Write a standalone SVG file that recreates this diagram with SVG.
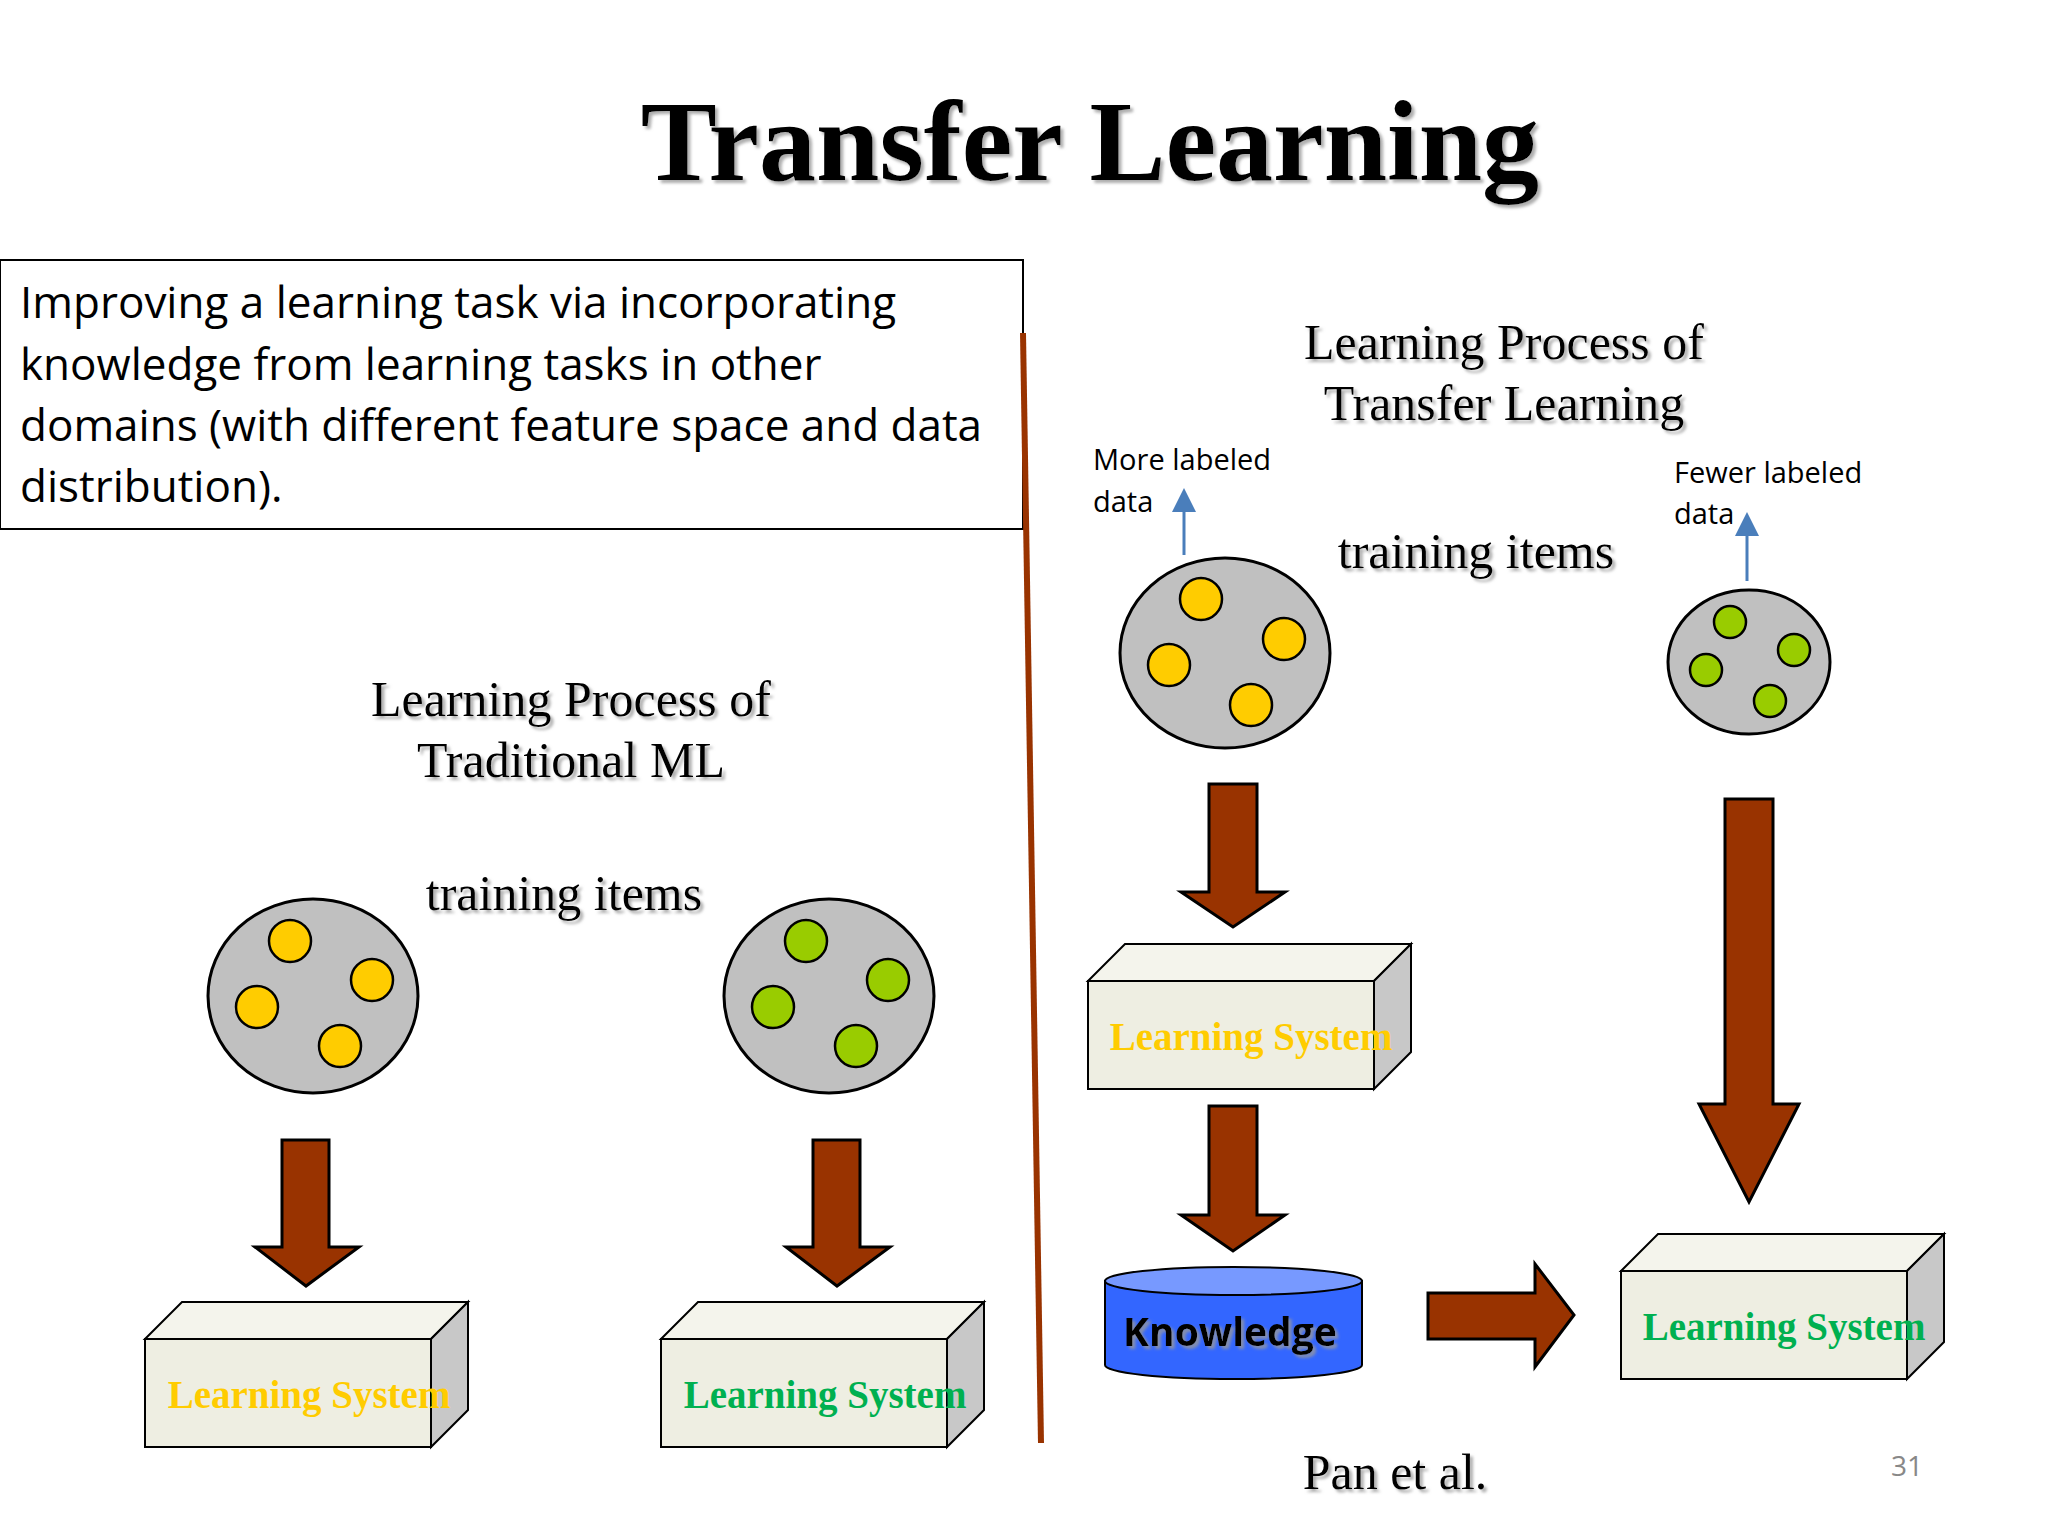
<svg xmlns="http://www.w3.org/2000/svg" width="2048" height="1536" viewBox="0 0 2048 1536">
<defs>
<filter id="sh" x="-10%" y="-10%" width="120%" height="130%"><feDropShadow dx="3" dy="3" stdDeviation="1.5" flood-color="#999" flood-opacity="0.8"/></filter>
<marker id="ba" markerWidth="8" markerHeight="8" refX="4" refY="4" orient="auto"><path d="M0,0 L8,4 L0,8 z" fill="#4a7ebb"/></marker>
</defs>
<style>
.serif{font-family:"Liberation Serif","Times New Roman",serif;fill:#000}
.sans{font-family:"Open Sans","Liberation Sans",sans-serif;fill:#000}
.disk{fill:#c0c0c0;stroke:#000;stroke-width:3}
.y{fill:#FFCC00;stroke:#000;stroke-width:2.5}
.g{fill:#99CC00;stroke:#000;stroke-width:2.5}
.arr{fill:#993300;stroke:#000;stroke-width:3}
.front{fill:#EEEEE2;stroke:#000;stroke-width:2}
.top{fill:#F4F4EC;stroke:#000;stroke-width:2}
.side{fill:#C8C8C8;stroke:#000;stroke-width:2}
.ls{font-family:"Liberation Serif",serif;font-weight:bold;font-size:39px;text-anchor:middle}
</style>
<rect width="2048" height="1536" fill="#fff"/>
<text class="serif" x="1090" y="180" font-size="114" font-weight="bold" text-anchor="middle" filter="url(#sh)">Transfer Learning</text>
<g id="definition">
<rect x="0" y="260" width="1023" height="269" fill="#fff" stroke="#000" stroke-width="2"/>
<text class="sans" font-size="44"><tspan x="20" y="318">Improving a learning task via incorporating</tspan><tspan x="20" y="380">knowledge from learning tasks in other</tspan><tspan x="20" y="441">domains (with different feature space and data</tspan><tspan x="20" y="502">distribution).</tspan></text>
</g>
<line x1="1023" y1="333" x2="1041" y2="1443" stroke="#993300" stroke-width="6"/>
<g class="serif" font-size="50" text-anchor="middle" filter="url(#sh)">
<text x="571" y="716">Learning Process of</text><text x="571" y="777">Traditional ML</text>
<text x="564" y="910">training items</text>
<text x="1504" y="359">Learning Process of</text><text x="1504" y="420">Transfer Learning</text>
<text x="1476" y="568">training items</text>
<text x="1395" y="1489">Pan et al.</text>
</g>
<g class="sans" font-size="29"><text x="1093" y="470">More labeled</text><text x="1093" y="512">data</text><text x="1674" y="483">Fewer labeled</text><text x="1674" y="524">data</text></g>
<text x="1907" y="1476" font-family="Open Sans,sans-serif" font-size="28" fill="#888" text-anchor="middle">31</text>
<g id="data1"><ellipse class="disk" cx="313" cy="996" rx="105" ry="97"/><circle class="y" cx="290" cy="941" r="21"/><circle class="y" cx="372" cy="980" r="21"/><circle class="y" cx="257" cy="1007" r="21"/><circle class="y" cx="340" cy="1046" r="21"/></g>
<g id="data2"><ellipse class="disk" cx="829" cy="996" rx="105" ry="97"/><circle class="g" cx="806" cy="941" r="21"/><circle class="g" cx="888" cy="980" r="21"/><circle class="g" cx="773" cy="1007" r="21"/><circle class="g" cx="856" cy="1046" r="21"/></g>
<g id="data3"><ellipse class="disk" cx="1225" cy="653" rx="105" ry="95"/><circle class="y" cx="1201" cy="599" r="21"/><circle class="y" cx="1284" cy="639" r="21"/><circle class="y" cx="1169" cy="665" r="21"/><circle class="y" cx="1251" cy="705" r="21"/></g>
<g id="data4"><ellipse class="disk" cx="1749" cy="662" rx="81" ry="72"/><circle class="g" cx="1730" cy="622" r="16"/><circle class="g" cx="1794" cy="650" r="16"/><circle class="g" cx="1706" cy="670" r="16"/><circle class="g" cx="1770" cy="701" r="16"/></g>
<g id="connectors">
<polygon class="arr" points="282,1140 329,1140 329,1247 359,1247 306,1286 255,1247 282,1247"/>
<polygon class="arr" points="813,1140 860,1140 860,1247 890,1247 837,1286 786,1247 813,1247"/>
<polygon class="arr" points="1209,784 1257,784 1257,892 1285,892 1233,927 1181,892 1209,892"/>
<polygon class="arr" points="1209,1106 1257,1106 1257,1215 1285,1215 1233,1251 1181,1215 1209,1215"/>
<polygon class="arr" points="1725,799 1773,799 1773,1104 1799,1104 1749,1202 1699,1104 1725,1104"/>
<polygon class="arr" points="1428,1293 1535,1293 1535,1264 1574,1315 1535,1367 1535,1339 1428,1339"/>
<line x1="1184" y1="555" x2="1184" y2="500" stroke="#4a7ebb" stroke-width="3" marker-end="url(#ba)"/>
<line x1="1747" y1="581" x2="1747" y2="524" stroke="#4a7ebb" stroke-width="3" marker-end="url(#ba)"/>
</g>
<g id="ls1"><polygon class="top" points="145,1339 182,1302 468,1302 431,1339"/><polygon class="side" points="431,1339 468,1302 468,1410 431,1447"/><rect class="front" x="145" y="1339" width="286" height="108"/><text class="ls" x="309" y="1408" fill="#FFCC00">Learning System</text></g>
<g id="ls2"><polygon class="top" points="661,1339 698,1302 984,1302 947,1339"/><polygon class="side" points="947,1339 984,1302 984,1410 947,1447"/><rect class="front" x="661" y="1339" width="286" height="108"/><text class="ls" x="825" y="1408" fill="#00B050">Learning System</text></g>
<g id="ls3"><polygon class="top" points="1088,981 1125,944 1411,944 1374,981"/><polygon class="side" points="1374,981 1411,944 1411,1052 1374,1089"/><rect class="front" x="1088" y="981" width="286" height="108"/><text class="ls" x="1251" y="1050" fill="#FFCC00">Learning System</text></g>
<g id="ls4"><polygon class="top" points="1621,1271 1658,1234 1944,1234 1907,1271"/><polygon class="side" points="1907,1271 1944,1234 1944,1342 1907,1379"/><rect class="front" x="1621" y="1271" width="286" height="108"/><text class="ls" x="1784" y="1340" fill="#00B050">Learning System</text></g>
<g id="knowledge">
<path d="M1105,1281 L1105,1365 A128.5,14 0 0 0 1362,1365 L1362,1281 Z" fill="#3366FF" stroke="#000" stroke-width="2"/>
<ellipse cx="1233.5" cy="1281" rx="128.5" ry="14" fill="#7799FF" stroke="#000" stroke-width="2"/>
<text x="1230" y="1346" font-family="Open Sans,Liberation Sans,sans-serif" font-weight="bold" font-size="39" text-anchor="middle" filter="url(#sh)">Knowledge</text>
</g>
</svg>
